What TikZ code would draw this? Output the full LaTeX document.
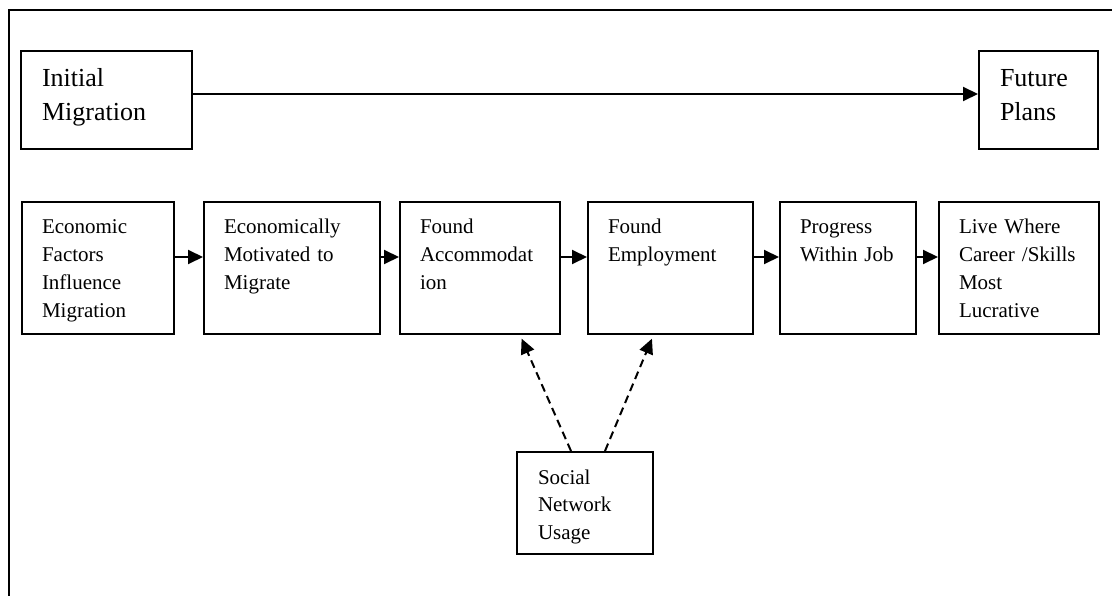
\documentclass[tikz,border=0pt]{standalone}
\usepackage{fontspec}
\setmainfont{Liberation Serif}
\usepackage{tikz}
\usetikzlibrary{arrows.meta}

\tikzset{
  bigbox/.style={rectangle,draw,line width=2pt,anchor=north west,align=left,
    inner xsep=21pt,inner ysep=18pt,text height=18pt,text depth=44pt,
    font=\fontsize{26}{34}\selectfont},
  stage/.style={rectangle,draw,line width=2pt,anchor=north west,align=left,
    inner xsep=20pt,inner ysep=18pt,text height=14pt,text depth=82pt,
    font=\fontsize{21}{27.7}\selectfont},
  flow/.style={line width=2pt,-{Triangle[length=15pt,width=14pt]}},
  netflow/.style={flow,dash pattern=on 8pt off 5pt,shorten >=4pt}
}

\begin{document}
\begin{tikzpicture}[x=1pt,y=-1pt]
\useasboundingbox (0,0) rectangle (1112,596);
\draw [line width=2pt] (9,596) -- (9,10) -- (1112,10);
\node (initial) at (20,50)  [bigbox,text width=129pt] {Initial\\Migration};
\node (future)  at (978,50) [bigbox,text width=77pt]  {Future\\Plans};
\node (econ)    at (21,201)  [stage,text width=112pt] {Economic\\Factors\\Influence\\Migration};
\node (motive)  at (203,201) [stage,text width=136pt] {Economically\\Motivated to\\Migrate};
\node (accom)   at (399,201) [stage,text width=120pt] {Found\\Accommodat\\ion};
\node (employ)  at (587,201) [stage,text width=125pt] {Found\\Employment};
\node (progress) at (779,201) [stage,text width=96pt] {Progress\\Within Job};
\node (live)    at (938,201) [stage,text width=120pt] {Live Where\\Career /Skills\\Most\\Lucrative};
\node (social)  at (516,451) [stage,text width=94pt,inner xsep=21pt,text depth=52pt] {Social\\Network\\Usage};
\draw [flow] ([yshift=6pt]initial.east) -- ([yshift=6pt]future.west);
\draw [flow] ([yshift=11pt]econ.east) -- ([yshift=11pt]motive.west);
\draw [flow] ([yshift=11pt]motive.east) -- ([yshift=11pt]accom.west);
\draw [flow] ([yshift=11pt]accom.east) -- ([yshift=11pt]employ.west);
\draw [flow] ([yshift=11pt]employ.east) -- ([yshift=11pt]progress.west);
\draw [flow] ([yshift=11pt]progress.east) -- ([yshift=11pt]live.west);
\draw [netflow] ([xshift=-14pt]social.north) -- ([xshift=40pt]accom.south);
\draw [netflow] ([xshift=20pt]social.north) -- ([xshift=-17pt]employ.south);
\end{tikzpicture}
\end{document}
